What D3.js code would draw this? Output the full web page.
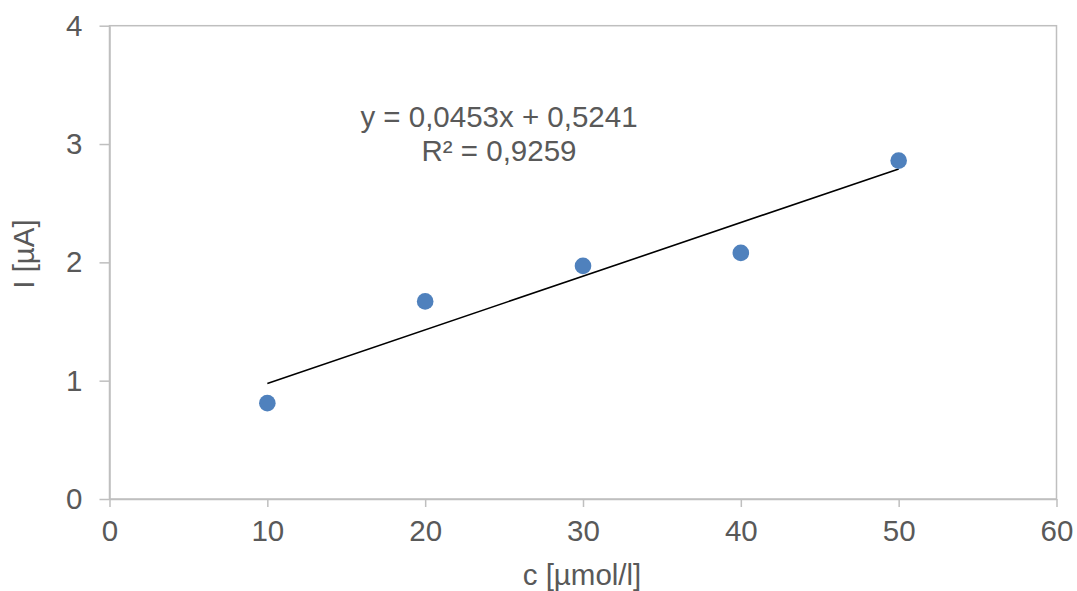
<!DOCTYPE html>
<html>
<head>
<meta charset="utf-8">
<script src="https://cdn.jsdelivr.net/npm/d3@7"></script>
<style>
  html, body { margin: 0; padding: 0; background: #fff; }
  svg text { font-family: "Liberation Sans", Arial, sans-serif; fill: #595959; }
</style>
</head>
<body>
<svg id="chart" width="1077" height="591"></svg>
<script>
// Calibration data: concentration vs. current
const concentrations = [10, 20, 30, 40, 50];
const currents = [0.81, 1.67, 1.97, 2.08, 2.86];

// Linear trendline as reported
const slope = 0.0453;
const intercept = 0.5241;
const rSquared = "0,9259";
const equationText = "y = 0,0453x + 0,5241";

const xTicks = [0, 10, 20, 30, 40, 50, 60];
const yTicks = [0, 1, 2, 3, 4];
const xTitle = "c [µmol/l]";
const yTitle = "I [µA]";

const svg = d3.select("#chart");
const plot = { left: 109.5, right: 1056.5, top: 25.7, bottom: 499 };
const axisColor = "#bfbfbf";
const fontSize = "29.5px";

const x = d3.scaleLinear().domain([0, 60]).range([plot.left, plot.right]);
const y = d3.scaleLinear().domain([0, 4]).range([plot.bottom, plot.top]);

// Plot area frame
svg.append("rect")
  .attr("x", plot.left).attr("y", plot.top)
  .attr("width", plot.right - plot.left).attr("height", plot.bottom - plot.top)
  .attr("fill", "none").attr("stroke", axisColor).attr("stroke-width", 1.5);

// X axis
const xAxis = svg.append("g").attr("transform", `translate(0,${plot.bottom})`)
  .call(d3.axisBottom(x).tickValues(xTicks).tickFormat(d3.format("d")).tickSizeInner(8).tickSizeOuter(0).tickPadding(13));
// Y axis
const yAxis = svg.append("g").attr("transform", `translate(${plot.left},0)`)
  .call(d3.axisLeft(y).tickValues(yTicks).tickFormat(d3.format("d")).tickSizeInner(10).tickSizeOuter(0).tickPadding(17));

[xAxis, yAxis].forEach(g => {
  g.select(".domain").attr("stroke", axisColor).attr("stroke-width", 1.5);
  g.selectAll(".tick line").attr("stroke", axisColor).attr("stroke-width", 1.5);
  g.selectAll(".tick text").attr("fill", "#595959")
    .style("font-family", "'Liberation Sans', Arial, sans-serif").style("font-size", fontSize);
});

// Trendline over the measured range
const xr = d3.extent(concentrations);
svg.append("line")
  .attr("x1", x(xr[0])).attr("y1", y(intercept + slope * xr[0]))
  .attr("x2", x(xr[1])).attr("y2", y(intercept + slope * xr[1]))
  .attr("stroke", "#000").attr("stroke-width", 1.6);

// Data points
svg.append("g").selectAll("circle")
  .data(concentrations.map((c, i) => [c, currents[i]]))
  .join("circle")
  .attr("cx", d => x(d[0])).attr("cy", d => y(d[1]))
  .attr("r", 8.3).attr("fill", "#4f81bd");

// Trendline equation
const eq = svg.append("text").attr("text-anchor", "middle").style("font-size", fontSize);
eq.append("tspan").attr("x", 499).attr("y", 127).text(equationText);
eq.append("tspan").attr("x", 499).attr("y", 161).text("R² = " + rSquared);

// Axis titles
svg.append("text").attr("x", 582).attr("y", 585).attr("text-anchor", "middle")
  .style("font-size", fontSize).text(xTitle);
svg.append("text").attr("transform", "translate(34,254) rotate(-90)").attr("text-anchor", "middle")
  .style("font-size", fontSize).text(yTitle);
</script>
</body>
</html>
